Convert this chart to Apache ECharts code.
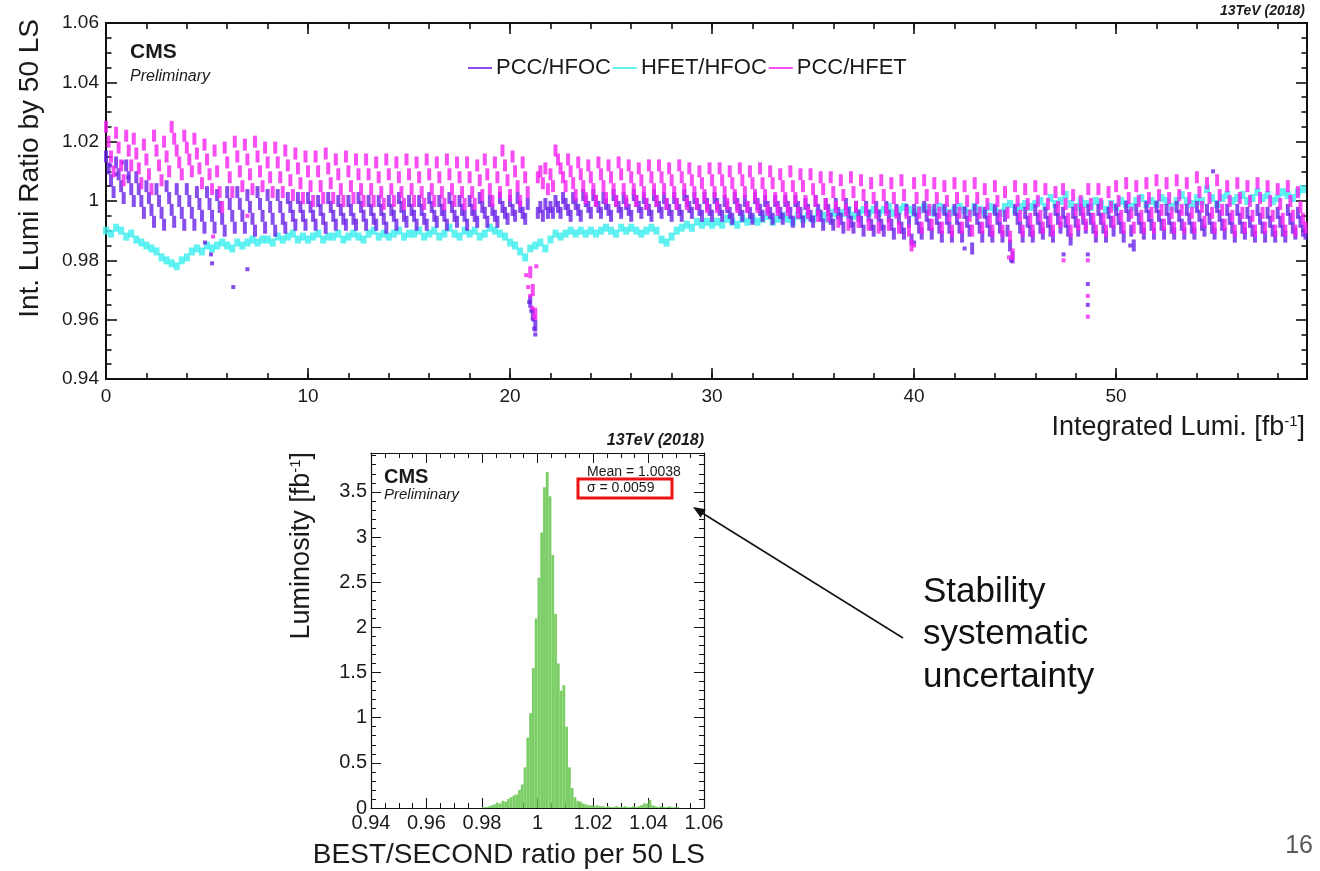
<!DOCTYPE html>
<html>
<head>
<meta charset="utf-8">
<title>Lumi ratio stability</title>
<script src="https://cdn.jsdelivr.net/npm/echarts/dist/echarts.min.js"></script>
<style>
  html, body { margin: 0; padding: 0; background: #fff; }
  #main { width: 1320px; height: 871px; }
</style>
</head>
<body>
<div id="main"></div>
<script>
// ---- top plot: ratio per 50 LS ----
// PCC ratios: one point every 0.125 fb^-1, HFET/HFOC: one every 0.25 fb^-1
var stepPcc = 0.125;
var stepHfet = 0.25;

var pccHfoc = [
  1.015, 1.011, 1.007, 1.003, 1.013, 1.009, 1.005, 1.001, 1.012, 1.008, 1.004, 1.000, 1.008, 1.004, 1.000, 0.996,
  1.005, 1.001, 0.997, 0.993, 1.004, 1.000, 0.996, 0.992, 1.005, 1.001, 0.997, 0.993, 1.004, 1.000, 0.996, 0.992,
  1.004, 1.000, 0.996, 0.992, 1.003, 0.999, 0.995, 0.991, 1.003, 0.999, 0.995, 0.991, 1.002, 0.998, 0.994, 0.990,
  1.003, 0.999, 0.995, 0.991, 1.003, 0.999, 0.995, 0.991, 1.002, 0.998, 0.994, 0.990, 1.003, 0.999, 0.995, 0.991,
  1.002, 0.998, 0.994, 0.990, 1.002, 0.998, 0.994, 0.991, 1.001, 0.998, 0.995, 0.992, 1.001, 0.998, 0.995, 0.992,
  1.001, 0.998, 0.995, 0.992, 1.000, 0.997, 0.994, 0.991, 1.001, 0.998, 0.995, 0.992, 1.000, 0.997, 0.994, 0.992,
  1.000, 0.997, 0.994, 0.992, 1.001, 0.998, 0.995, 0.992, 1.000, 0.997, 0.994, 0.992, 1.000, 0.997, 0.994, 0.991,
  1.000, 0.997, 0.995, 0.992, 1.001, 0.998, 0.995, 0.993, 1.000, 0.997, 0.995, 0.992, 1.000, 0.997, 0.994, 0.992,
  1.001, 0.998, 0.995, 0.993, 1.000, 0.997, 0.995, 0.992, 1.001, 0.998, 0.995, 0.993, 1.000, 0.997, 0.995, 0.992,
  1.000, 0.997, 0.995, 0.993, 1.001, 0.998, 0.996, 0.993, 1.000, 0.997, 0.995, 0.993, 1.001, 0.998, 0.996, 0.994,
  1.000, 0.997, 0.995, 1.001, 0.998, 0.996, 0.994, 0.999, 0.966, 0.962, 0.958, 0.996, 0.998, 0.995, 0.999, 0.996,
  0.998, 0.996, 1.000, 0.998, 0.996, 1.001, 0.999, 0.997, 0.995, 1.001, 0.999, 0.997, 0.995, 1.002, 1.000, 0.998,
  0.996, 1.002, 1.000, 0.998, 0.996, 1.001, 0.999, 0.997, 0.995, 1.002, 1.000, 0.998, 0.996, 1.001, 0.999, 0.997,
  0.995, 1.002, 1.000, 0.998, 0.996, 1.001, 0.999, 0.997, 0.995, 1.002, 1.000, 0.998, 0.996, 1.001, 0.999, 0.997,
  0.995, 1.001, 0.999, 0.997, 0.995, 1.002, 1.000, 0.998, 0.996, 1.001, 0.999, 0.997, 0.995, 1.001, 0.999, 0.997,
  0.995, 1.001, 0.999, 0.997, 0.995, 1.000, 0.998, 0.996, 0.994, 1.001, 0.999, 0.997, 0.995, 1.000, 0.998, 0.996,
  0.994, 1.001, 0.999, 0.997, 0.995, 1.000, 0.998, 0.996, 0.994, 1.000, 0.998, 0.996, 0.994, 1.000, 0.998, 0.996,
  0.993, 1.000, 0.998, 0.996, 0.993, 0.999, 0.997, 0.995, 0.993, 1.000, 0.997, 0.995, 0.992, 0.999, 0.997, 0.994,
  0.992, 0.999, 0.996, 0.994, 0.991, 0.999, 0.996, 0.993, 0.991, 0.998, 0.995, 0.993, 0.990, 0.998, 0.995, 0.992,
  0.990, 0.998, 0.995, 0.992, 0.990, 0.998, 0.995, 0.992, 0.989, 0.997, 0.994, 0.991, 0.989, 0.997, 0.993, 0.987,
  0.997, 0.994, 0.991, 0.989, 0.998, 0.995, 0.992, 0.989, 0.997, 0.994, 0.991, 0.988, 0.997, 0.994, 0.991, 0.988,
  0.997, 0.994, 0.991, 0.988, 0.996, 0.993, 0.990, 0.984, 0.997, 0.994, 0.991, 0.988, 0.996, 0.993, 0.990, 0.988,
  0.997, 0.994, 0.991, 0.988, 0.995, 0.990, 0.985, 0.981, 0.997, 0.994, 0.991, 0.988, 0.996, 0.993, 0.990, 0.988,
  0.997, 0.994, 0.991, 0.989, 0.996, 0.993, 0.990, 0.988, 0.997, 0.994, 0.991, 0.996, 0.993, 0.990, 0.987, 0.996,
  0.993, 0.990, 0.997, 0.994, 0.991, 0.997, 0.994, 0.991, 0.988, 0.997, 0.994, 0.991, 0.988, 0.996, 0.993, 0.990,
  0.997, 0.994, 0.991, 0.988, 0.998, 0.995, 0.990, 0.985, 0.997, 0.994, 0.991, 0.989, 0.998, 0.995, 0.992, 0.989,
  0.998, 0.995, 0.992, 0.989, 0.997, 0.994, 0.991, 0.989, 0.998, 0.995, 0.992, 0.989, 0.997, 0.994, 0.991, 0.989,
  0.998, 0.995, 0.992, 0.990, 0.997, 0.994, 0.991, 0.989, 0.998, 0.995, 0.992, 0.989, 0.997, 0.994, 0.991, 0.988,
  0.997, 0.994, 0.991, 0.989, 0.996, 0.993, 0.990, 0.988, 0.997, 0.994, 0.991, 0.988, 0.996, 0.993, 0.990, 0.988,
  0.996, 0.993, 0.990, 0.988, 0.997, 0.994, 0.991, 0.989, 0.996, 0.993, 0.990, 0.989
];

var hfetHfoc = [
  0.990, 0.989, 0.991, 0.990, 0.988, 0.989, 0.987, 0.986,
  0.985, 0.984, 0.983, 0.981, 0.980, 0.979, 0.978, 0.980,
  0.981, 0.983, 0.984, 0.983, 0.985, 0.984, 0.985, 0.986,
  0.985, 0.984, 0.986, 0.985, 0.986, 0.987, 0.986, 0.987,
  0.987, 0.986, 0.988, 0.987, 0.988, 0.989, 0.987, 0.988,
  0.987, 0.988, 0.989, 0.987, 0.988, 0.988, 0.989, 0.987,
  0.988, 0.989, 0.988, 0.987, 0.989, 0.990, 0.988, 0.989,
  0.988, 0.989, 0.990, 0.988, 0.989, 0.989, 0.990, 0.988,
  0.989, 0.990, 0.988, 0.989, 0.991, 0.989, 0.988, 0.990,
  0.989, 0.990, 0.988, 0.989, 0.991, 0.990, 0.989, 0.988,
  0.986, 0.985, 0.983, 0.981, 0.984, 0.985, 0.986, 0.984,
  0.987, 0.989, 0.988, 0.989, 0.990, 0.989, 0.990, 0.989,
  0.990, 0.989, 0.990, 0.991, 0.990, 0.989, 0.991, 0.990,
  0.991, 0.990, 0.989, 0.990, 0.991, 0.990, 0.987, 0.986,
  0.988, 0.990, 0.991, 0.992, 0.991, 0.993, 0.992, 0.993,
  0.992, 0.993, 0.992, 0.994, 0.993, 0.992, 0.994, 0.993,
  0.994, 0.993, 0.994, 0.995, 0.993, 0.994, 0.995, 0.994,
  0.993, 0.995, 0.994, 0.995, 0.994, 0.996, 0.995, 0.994,
  0.996, 0.995, 0.996, 0.997, 0.995, 0.996, 0.997, 0.996,
  0.997, 0.996, 0.997, 0.998, 0.996, 0.997, 0.998, 0.997,
  0.996, 0.997, 0.998, 0.997, 0.996, 0.998, 0.997, 0.996,
  0.997, 0.998, 0.997, 0.996, 0.998, 0.997, 0.996, 0.998,
  0.997, 0.996, 0.998, 0.999, 0.997, 0.998, 0.999, 0.998,
  0.999, 1.000, 0.998, 1.001, 0.999, 1.000, 1.002, 0.999,
  0.998, 1.000, 0.999, 0.998, 1.000, 0.999, 0.997, 0.999,
  0.998, 1.000, 0.999, 0.998, 1.000, 1.001, 0.999, 1.000,
  0.999, 1.001, 1.000, 0.998, 1.000, 1.002, 1.000, 0.999,
  1.001, 1.000, 1.004, 1.001, 0.999, 1.001, 1.002, 1.000,
  1.001, 1.002, 1.000, 1.001, 1.003, 1.001, 1.002, 1.000,
  1.001, 1.003, 1.002, 1.001, 1.003, 1.004
];

var pccHfet = [
  1.025, 1.020, 1.015, 1.010, 1.023, 1.018, 1.012, 1.007, 1.022, 1.017, 1.012, 1.021, 1.016, 1.011, 1.006, 1.019,
  1.014, 1.009, 1.004, 1.022, 1.017, 1.012, 1.007, 1.020, 1.015, 1.010, 1.025, 1.021, 1.017, 1.013, 1.009, 1.022,
  1.018, 1.014, 1.010, 1.021, 1.016, 1.011, 1.006, 1.019, 1.014, 1.009, 1.004, 1.017, 1.010, 1.003, 0.998, 1.018,
  1.013, 1.008, 1.003, 1.020, 1.015, 1.010, 1.005, 1.019, 1.014, 1.009, 1.004, 1.020, 1.015, 1.010, 1.005, 1.018,
  1.013, 1.008, 1.003, 1.018, 1.013, 1.008, 1.003, 1.017, 1.012, 1.007, 1.002, 1.016, 1.011, 1.006, 1.001, 1.015,
  1.010, 1.005, 1.000, 1.015, 1.010, 1.005, 1.001, 1.016, 1.011, 1.006, 1.001, 1.014, 1.009, 1.004, 1.000, 1.015,
  1.010, 1.005, 1.001, 1.014, 1.009, 1.004, 1.000, 1.014, 1.009, 1.004, 1.000, 1.013, 1.008, 1.003, 0.999, 1.014,
  1.009, 1.004, 1.000, 1.013, 1.008, 1.003, 0.999, 1.014, 1.009, 1.004, 1.000, 1.013, 1.008, 1.003, 0.999, 1.014,
  1.009, 1.004, 1.000, 1.013, 1.008, 1.003, 0.999, 1.014, 1.009, 1.004, 1.000, 1.013, 1.008, 1.003, 0.999, 1.013,
  1.008, 1.003, 0.999, 1.012, 1.007, 1.002, 1.014, 1.009, 1.004, 1.000, 1.013, 1.008, 1.003, 1.017, 1.012, 1.007,
  1.002, 1.015, 1.010, 1.005, 1.000, 1.013, 1.008, 1.003, 0.976, 0.970, 0.962, 1.008, 1.010, 1.006, 1.011, 1.004,
  1.009, 1.005, 1.017, 1.014, 1.011, 1.008, 1.005, 1.014, 1.010, 1.006, 1.002, 1.013, 1.009, 1.005, 1.001, 1.012,
  1.008, 1.004, 1.000, 1.013, 1.009, 1.005, 1.001, 1.012, 1.008, 1.004, 1.000, 1.013, 1.009, 1.004, 1.000, 1.012,
  1.008, 1.004, 1.000, 1.011, 1.007, 1.003, 0.999, 1.012, 1.008, 1.004, 1.000, 1.012, 1.008, 1.004, 0.999, 1.011,
  1.007, 1.003, 0.999, 1.012, 1.008, 1.004, 0.999, 1.011, 1.007, 1.003, 0.999, 1.010, 1.006, 1.002, 0.998, 1.011,
  1.007, 1.003, 0.998, 1.011, 1.007, 1.003, 0.999, 1.010, 1.006, 1.002, 0.998, 1.011, 1.007, 1.003, 0.998, 1.010,
  1.006, 1.002, 0.998, 1.011, 1.006, 1.002, 0.997, 1.010, 1.006, 1.001, 0.997, 1.009, 1.005, 1.001, 0.997, 1.010,
  1.005, 1.001, 0.996, 1.009, 1.005, 1.000, 0.996, 1.009, 1.004, 1.000, 0.995, 1.008, 1.004, 0.999, 0.995, 1.008,
  1.003, 0.998, 0.993, 1.007, 1.002, 0.997, 0.992, 1.008, 1.003, 0.998, 0.993, 1.007, 1.002, 0.997, 0.992, 1.006,
  1.001, 0.996, 0.991, 1.007, 1.002, 0.997, 0.992, 1.006, 1.001, 0.996, 0.991, 1.007, 1.002, 0.996, 0.990, 0.985,
  1.006, 1.001, 0.996, 0.991, 1.007, 1.002, 0.997, 0.992, 1.006, 1.001, 0.996, 0.991, 1.005, 1.000, 0.995, 0.990,
  1.006, 1.001, 0.996, 0.991, 1.005, 1.000, 0.995, 0.990, 1.006, 1.001, 0.996, 0.991, 1.004, 0.999, 0.994, 0.990,
  1.005, 1.000, 0.995, 0.990, 1.003, 0.996, 0.988, 0.982, 1.005, 1.000, 0.995, 0.990, 1.004, 0.999, 0.994, 0.990,
  1.005, 1.000, 0.995, 0.991, 1.004, 0.999, 0.994, 0.990, 1.003, 0.998, 0.993, 1.004, 0.999, 0.994, 0.990, 1.002,
  0.997, 0.992, 1.000, 0.996, 0.992, 1.004, 0.999, 0.994, 0.990, 1.004, 0.999, 0.994, 0.990, 1.003, 0.998, 0.993,
  1.005, 1.000, 0.995, 0.991, 1.006, 1.001, 0.996, 0.991, 1.005, 1.000, 0.995, 0.991, 1.006, 1.001, 0.996, 0.991,
  1.007, 1.002, 0.997, 0.992, 1.006, 1.001, 0.996, 0.991, 1.007, 1.002, 0.997, 0.991, 1.006, 1.001, 0.996, 0.991,
  1.008, 1.003, 0.998, 0.993, 1.006, 1.001, 0.996, 0.991, 1.007, 1.002, 0.997, 0.992, 1.005, 1.000, 0.995, 0.990,
  1.006, 1.001, 0.996, 0.991, 1.005, 1.000, 0.995, 0.990, 1.006, 1.001, 0.996, 0.991, 1.005, 1.000, 0.995, 0.990,
  1.004, 0.999, 0.994, 0.990, 1.005, 1.000, 0.995, 0.990, 1.003, 0.998, 0.994, 0.991
];

// isolated points (dips and outliers), [lumi, ratio]
var pccHfocExtra = [
  [0.2, 1.012], [0.5, 1.009], [0.8, 1.013], [1.1, 1.008], [4.9, 0.986],
  [5.2, 0.982], [5.25, 0.979], [6.3, 0.971], [7.0, 0.977],
  [20.95, 0.966], [21.05, 0.963], [21.15, 0.960], [21.2, 0.957], [21.25, 0.955],
  [40.0, 0.986], [42.5, 0.984], [44.8, 0.980], [47.4, 0.982],
  [48.6, 0.982], [48.6, 0.972], [48.6, 0.965], [50.7, 0.985], [54.8, 1.010]
];
var pccHfetExtra = [
  [20.8, 0.975], [20.9, 0.971], [21.0, 0.968], [21.1, 0.964], [21.2, 0.961], [21.3, 0.978],
  [5.3, 0.988], [7.0, 0.995], [40.0, 0.985], [44.7, 0.981], [47.4, 0.980],
  [48.6, 0.980], [48.6, 0.968], [48.6, 0.961]
];

// ---- bottom plot: BEST/SECOND histogram ----
var histStart = 0.980;
var histWidth = 0.001;
var histLumi = [
  0.01, 0.01, 0.02, 0.03, 0.04, 0.06, 0.05, 0.08, 0.07, 0.10,
  0.12, 0.14, 0.15, 0.20, 0.26, 0.45, 0.78, 1.05, 1.55, 2.10,
  2.55, 3.05, 3.55, 3.72, 3.45, 2.80, 2.15, 1.60, 1.30, 1.36,
  0.90, 0.45, 0.22, 0.12, 0.08, 0.07, 0.05, 0.04, 0.03, 0.03,
  0.02, 0.03, 0.02, 0.02, 0.01, 0.02, 0.01, 0.01, 0.02, 0.01,
  0.01, 0.02, 0.01, 0.01, 0.02, 0.01, 0.02, 0.03, 0.05, 0.05,
  0.09, 0.03, 0.02, 0.01, 0.02, 0.01, 0.01, 0.02, 0.01, 0.01,
  0.01
];

var FONT = 'Liberation Sans, Arial, Helvetica, sans-serif';
var INK = '#1a1a1a';

function ax(grid, pos, min, max, step, tickLen, opts) {
  opts = opts || {};
  var big = grid === 0;
  return {
    gridIndex: grid, type: 'value', position: pos, min: min, max: max, interval: step,
    axisLine: { show: opts.line !== false, onZero: false, lineStyle: { color: '#111', width: big ? 2 : 1.2 } },
    axisTick: { show: true, inside: true, length: tickLen, lineStyle: { color: '#111', width: big ? 1.6 : 1 } },
    minorTick: { show: !!opts.minor, splitNumber: opts.minor || 5, length: tickLen / 2, lineStyle: { color: '#111', width: big ? 1.6 : 1 } },
    axisLabel: {
      show: !!opts.labels, fontSize: opts.fontSize || 19, color: INK, fontFamily: FONT,
      margin: opts.margin || 8, showMaxLabel: opts.showMax !== false
    },
    splitLine: { show: false }
  };
}

function toPoints(arr, step) {
  return arr.map(function (v, i) { return [i * step, v]; });
}

var xMax = 59.45, yMaxHist = 3.93;

var chart = echarts.init(document.getElementById('main'), null, { renderer: 'canvas' });

var option = {
  animation: false,
  backgroundColor: '#fff',
  textStyle: { fontFamily: FONT },
  grid: [
    { left: 106, top: 23, width: 1201, height: 356 },
    { left: 371, top: 453, width: 333, height: 355 }
  ],
  xAxis: [
    ax(0, 'bottom', 0, xMax, 10, 11, { labels: true, showMax: false, fontSize: 19, margin: 8 }),
    ax(0, 'bottom', 0, xMax, 2, 6, { line: false }),
    ax(0, 'top', 0, xMax, 10, 11, {}),
    ax(0, 'top', 0, xMax, 2, 6, { line: false }),
    ax(1, 'bottom', 0.94, 1.06, 0.02, 10, { labels: true, minor: 4, fontSize: 20, margin: 5 }),
    ax(1, 'top', 0.94, 1.06, 0.02, 10, { minor: 4 })
  ],
  yAxis: [
    ax(0, 'left', 0.94, 1.06, 0.02, 11, { labels: true, minor: 4, fontSize: 19, margin: 7 }),
    ax(0, 'right', 0.94, 1.06, 0.02, 11, { minor: 4 }),
    ax(1, 'left', 0, yMaxHist, 0.5, 10, { labels: true, showMax: false, fontSize: 20, margin: 4 }),
    ax(1, 'left', 0, yMaxHist, 0.1, 5, { line: false }),
    ax(1, 'right', 0, yMaxHist, 0.5, 10, {}),
    ax(1, 'right', 0, yMaxHist, 0.1, 5, { line: false })
  ],
  legend: {
    data: ['PCC/HFOC', 'HFET/HFOC', 'PCC/HFET'],
    left: 463, top: 52,
    icon: 'rect', itemWidth: 24, itemHeight: 2, itemGap: 2,
    textStyle: { fontSize: 22, color: INK, fontFamily: FONT, padding: [0, 0, 0, -1] }
  },
  series: [
    {
      name: 'HFET/HFOC', type: 'scatter', xAxisIndex: 0, yAxisIndex: 0,
      symbol: 'rect', symbolSize: [6, 8], itemStyle: { color: '#3aeeee' },
      data: toPoints(hfetHfoc, stepHfet)
    },
    {
      name: 'PCC/HFOC', type: 'scatter', xAxisIndex: 0, yAxisIndex: 0,
      symbol: 'rect', symbolSize: [4, 12], itemStyle: { color: '#6a22e6' },
      data: toPoints(pccHfoc, stepPcc)
    },
    {
      name: 'PCC/HFOC', type: 'scatter', xAxisIndex: 0, yAxisIndex: 0,
      symbol: 'rect', symbolSize: [4, 4], itemStyle: { color: '#6a22e6' },
      data: pccHfocExtra
    },
    {
      name: 'PCC/HFET', type: 'scatter', xAxisIndex: 0, yAxisIndex: 0,
      symbol: 'rect', symbolSize: [4, 12], itemStyle: { color: '#f522f0' },
      data: toPoints(pccHfet, stepPcc)
    },
    {
      name: 'PCC/HFET', type: 'scatter', xAxisIndex: 0, yAxisIndex: 0,
      symbol: 'rect', symbolSize: [4, 4], itemStyle: { color: '#f522f0' },
      data: pccHfetExtra
    },
    {
      name: 'BEST/SECOND', type: 'custom', xAxisIndex: 4, yAxisIndex: 2,
      encode: { x: 0, y: 1 },
      data: histLumi.map(function (v, i) { return [histStart + i * histWidth, v]; }),
      renderItem: function (params, api) {
        var lo = api.value(0);
        var p0 = api.coord([lo, 0]);
        var p1 = api.coord([lo + histWidth, api.value(1)]);
        return {
          type: 'rect',
          shape: { x: p0[0], y: p1[1], width: p1[0] - p0[0], height: p0[1] - p1[1] },
          style: { fill: '#7bcd66' }
        };
      }
    }
  ],
  graphic: [
    // top plot labels
    { type: 'text', x: 130, y: 52, style: { text: 'CMS', fontSize: 21, fontWeight: 'bold', fontFamily: FONT, fill: INK, textVerticalAlign: 'middle' } },
    { type: 'text', x: 130, y: 77, style: { text: 'Preliminary', fontSize: 16, fontStyle: 'italic', fontFamily: FONT, fill: INK, textVerticalAlign: 'middle' } },
    { type: 'text', x: 1305, y: 11, style: { text: '13TeV (2018)', fontSize: 14, fontWeight: 'bold', fontStyle: 'italic', fontFamily: FONT, fill: INK, textAlign: 'right', textVerticalAlign: 'middle' } },
    { type: 'text', x: 30, y: 19, rotation: Math.PI / 2, style: { text: 'Int. Lumi Ratio by 50 LS', fontSize: 28, fontFamily: FONT, fill: INK, textAlign: 'right', textVerticalAlign: 'middle' } },
    { type: 'text', x: 1305, y: 428, style: {
        text: 'Integrated Lumi. [fb{sup|-1}]', fontSize: 27, fontFamily: FONT, fill: INK,
        textAlign: 'right', textVerticalAlign: 'middle',
        rich: { sup: { fontSize: 15, fontFamily: FONT, fill: INK, verticalAlign: 'top', padding: [0, 0, 12, 0] } }
    } },
    // histogram labels
    { type: 'text', x: 384, y: 477, style: { text: 'CMS', fontSize: 20, fontWeight: 'bold', fontFamily: FONT, fill: INK, textVerticalAlign: 'middle' } },
    { type: 'text', x: 384, y: 495, style: { text: 'Preliminary', fontSize: 15, fontStyle: 'italic', fontFamily: FONT, fill: INK, textVerticalAlign: 'middle' } },
    { type: 'text', x: 704, y: 441, style: { text: '13TeV (2018)', fontSize: 16, fontWeight: 'bold', fontStyle: 'italic', fontFamily: FONT, fill: INK, textAlign: 'right', textVerticalAlign: 'middle' } },
    { type: 'text', x: 587, y: 472, style: { text: 'Mean = 1.0038', fontSize: 14, fontFamily: FONT, fill: INK, textVerticalAlign: 'middle' } },
    { type: 'text', x: 587, y: 488, style: { text: 'σ = 0.0059', fontSize: 14, fontFamily: FONT, fill: INK, textVerticalAlign: 'middle' } },
    { type: 'rect', shape: { x: 578, y: 479, width: 94, height: 19 }, style: { fill: 'none', stroke: '#ee1111', lineWidth: 3 } },
    { type: 'text', x: 302, y: 452, rotation: Math.PI / 2, style: {
        text: 'Luminosity [fb{sup|-1}]', fontSize: 27, fontFamily: FONT, fill: INK,
        textAlign: 'right', textVerticalAlign: 'middle',
        rich: { sup: { fontSize: 15, fontFamily: FONT, fill: INK, verticalAlign: 'top', padding: [0, 0, 12, 0] } }
    } },
    { type: 'text', x: 705, y: 855, style: { text: 'BEST/SECOND ratio per 50 LS', fontSize: 28, fontFamily: FONT, fill: INK, textAlign: 'right', textVerticalAlign: 'middle' } },
    // annotation
    { type: 'line', shape: { x1: 903, y1: 638, x2: 699, y2: 511 }, style: { stroke: '#111', lineWidth: 1.5 } },
    { type: 'polygon', shape: { points: [[693, 507], [705.8, 509.2], [700.6, 517.6]] }, style: { fill: '#111' } },
    { type: 'text', x: 923, y: 592, style: { text: 'Stability', fontSize: 35, fontFamily: FONT, fill: '#111', textVerticalAlign: 'middle' } },
    { type: 'text', x: 923, y: 634, style: { text: 'systematic', fontSize: 35, fontFamily: FONT, fill: '#111', textVerticalAlign: 'middle' } },
    { type: 'text', x: 923, y: 677, style: { text: 'uncertainty', fontSize: 35, fontFamily: FONT, fill: '#111', textVerticalAlign: 'middle' } },
    { type: 'text', x: 1313, y: 846, style: { text: '16', fontSize: 25, fontFamily: FONT, fill: '#595959', textAlign: 'right', textVerticalAlign: 'middle' } }
  ]
};

chart.setOption(option);
</script>
</body>
</html>
